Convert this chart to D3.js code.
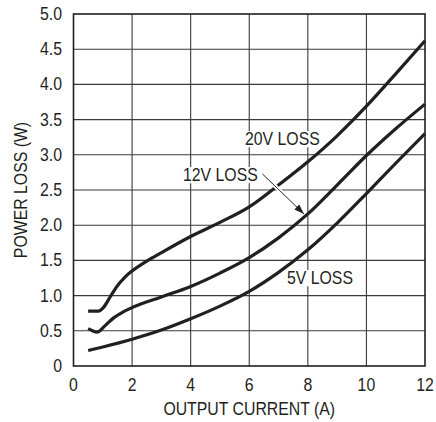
<!DOCTYPE html>
<html>
<head>
<meta charset="utf-8">
<script src="https://cdn.jsdelivr.net/npm/d3@7"></script>
<style>
  body { margin: 0; background: #fff; }
  text { font-family: "Liberation Sans", Arial, sans-serif; fill: #231f20; }
</style>
</head>
<body>
<div id="chart"></div>
<script>
// output current (A) and loss (W)
var current20 = [0.5, 0.85, 1.02, 1.25, 1.5, 1.75, 2, 2.5, 3, 4, 5, 6, 7, 8, 9, 10, 11, 12];
var loss20    = [0.78, 0.78, 0.83, 0.98, 1.14, 1.26, 1.35, 1.49, 1.61, 1.84, 2.04, 2.26, 2.57, 2.9, 3.27, 3.69, 4.15, 4.62];

var current12 = [0.5, 0.65, 0.8, 1.07, 1.36, 1.7, 2, 3, 4, 5, 6, 7, 8, 9, 10, 11, 12];
var loss12    = [0.53, 0.5, 0.48, 0.57, 0.68, 0.77, 0.83, 0.98, 1.13, 1.32, 1.54, 1.82, 2.16, 2.57, 2.99, 3.37, 3.72];

var current5 = [0.5, 1, 2, 3, 4, 5, 6, 7, 8, 9, 10, 11, 12];
var loss5    = [0.22, 0.27, 0.38, 0.51, 0.67, 0.85, 1.06, 1.33, 1.65, 2.03, 2.45, 2.88, 3.30];

var xTicks = [0, 2, 4, 6, 8, 10, 12];
var yTicks = [0, 0.5, 1.0, 1.5, 2.0, 2.5, 3.0, 3.5, 4.0, 4.5, 5.0];

var width = 436, height = 422;
var plotLeft = 73.5, plotRight = 425, plotTop = 14, plotBottom = 366;
var squeeze = 0.88;   // the original type is a condensed face

var svg = d3.select("#chart").append("svg")
    .attr("width", width)
    .attr("height", height);

var x = d3.scaleLinear().domain([0, 12]).range([plotLeft, plotRight]);
var y = d3.scaleLinear().domain([0, 5]).range([plotBottom, plotTop]);

function label(px, py, str, anchor, rot)
{
    return svg.append("text")
        .attr("transform", "translate(" + px + "," + py + ")" +
              (rot ? " rotate(" + rot + ")" : "") + " scale(" + squeeze + ",1)")
        .attr("text-anchor", anchor || "start")
        .attr("font-size", "18px")
        .text(str);
}

// grid
svg.append("g").selectAll("line")
    .data(xTicks.slice(1, -1))
    .enter().append("line")
    .attr("x1", function(d) { return x(d); })
    .attr("x2", function(d) { return x(d); })
    .attr("y1", plotTop)
    .attr("y2", plotBottom)
    .attr("stroke", "#3a3a3a")
    .attr("stroke-width", 1.1);

svg.append("g").selectAll("line")
    .data(yTicks.slice(1, -1))
    .enter().append("line")
    .attr("x1", plotLeft)
    .attr("x2", plotRight)
    .attr("y1", function(d) { return y(d); })
    .attr("y2", function(d) { return y(d); })
    .attr("stroke", "#3a3a3a")
    .attr("stroke-width", 1.1);

svg.append("rect")
    .attr("x", plotLeft)
    .attr("y", plotTop)
    .attr("width", plotRight - plotLeft)
    .attr("height", plotBottom - plotTop)
    .attr("fill", "none")
    .attr("stroke", "#231f20")
    .attr("stroke-width", 1.6);

// tick labels
yTicks.forEach(function(d) {
    label(62, y(d) + 6, d === 0 ? "0" : d3.format(".1f")(d), "end");
});
xTicks.forEach(function(d) {
    label(x(d), 391, d, "middle");
});

label((plotLeft + plotRight) / 2, 415, "OUTPUT CURRENT (A)", "middle");
label(27, (plotTop + plotBottom) / 2, "POWER LOSS (W)", "middle", -90);

// curves
var line = d3.line()
    .x(function(d) { return x(d[0]); })
    .y(function(d) { return y(d[1]); })
    .curve(d3.curveMonotoneX);

var series = [
    d3.zip(current20, loss20),
    d3.zip(current12, loss12),
    d3.zip(current5, loss5)
];

svg.append("g").selectAll("path")
    .data(series)
    .enter().append("path")
    .attr("d", line)
    .attr("fill", "none")
    .attr("stroke", "#231f20")
    .attr("stroke-width", 3.2);

// curve names, white box behind each
var names = [
    {text: "20V LOSS", x: 245, y: 145},
    {text: "12V LOSS", x: 183, y: 181},
    {text: "5V LOSS",  x: 287, y: 284}
];

names.forEach(function(l) {
    var t = label(l.x, l.y, l.text);
    var b = t.node().getBBox();
    svg.insert("rect", function() { return t.node(); })
        .attr("transform", t.attr("transform"))
        .attr("x", b.x - 2)
        .attr("y", b.y + 2)
        .attr("width", b.width + 4)
        .attr("height", b.height - 4)
        .attr("fill", "#fff");
});

// arrow from 12V label to its curve
svg.append("defs").append("marker")
    .attr("id", "arr")
    .attr("viewBox", "0 0 10 10")
    .attr("refX", 10)
    .attr("refY", 5)
    .attr("markerWidth", 10)
    .attr("markerHeight", 10)
    .attr("markerUnits", "userSpaceOnUse")
    .attr("orient", "auto")
    .append("path")
    .attr("d", "M0,1.5 L10,5 L0,8.5 Z")
    .attr("fill", "#231f20");

var ax1 = 262.5, ay1 = 174, ax2 = 304, ay2 = 214;
svg.append("line")
    .attr("x1", ax1).attr("y1", ay1)
    .attr("x2", ax2 - 6).attr("y2", ay2 - 6)
    .attr("stroke", "#fff")
    .attr("stroke-width", 4);
svg.append("line")
    .attr("x1", ax1).attr("y1", ay1)
    .attr("x2", ax2).attr("y2", ay2)
    .attr("stroke", "#231f20")
    .attr("stroke-width", 1)
    .attr("marker-end", "url(#arr)");
</script>
</body>
</html>
